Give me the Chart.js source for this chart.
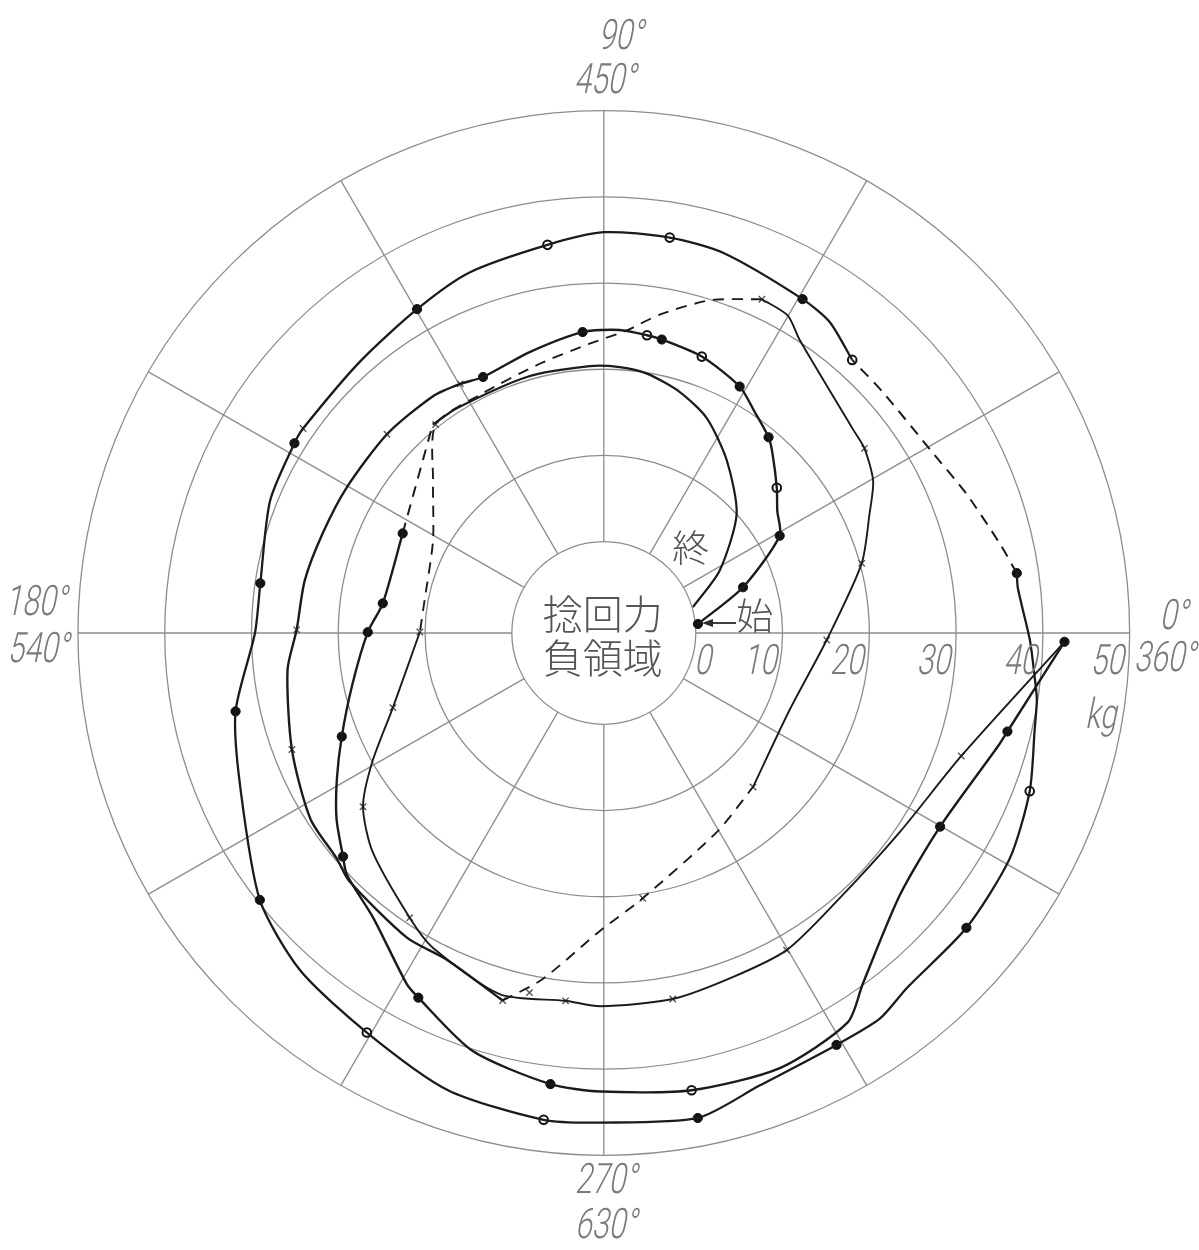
<!DOCTYPE html>
<html><head><meta charset="utf-8">
<script src="https://cdn.jsdelivr.net/npm/chart.js@4.4.0/dist/chart.umd.min.js"></script>
<style>html,body{margin:0;padding:0;background:#fff;}#wrap{width:1199px;height:1250px;}</style>
</head><body><div id="wrap"><canvas id="c" width="1199" height="1250"></canvas></div>
<script>
// ---- polar frame ----
const OFFSET = 10.6;                 // radius of the inner "negative torque" region (kg units)
const ringValues = [0, 10, 20, 30, 40, 50];
const tickLabels = ['0', '10', '20', '30', '40', '50'];
const spokeAngles = [0, 30, 60, 90, 120, 150, 180, 210, 240, 270, 300, 330];
const angleLabelsOuter = ['0°', '90°', '180°', '270°'];
const angleLabelsInner = ['360°', '450°', '540°', '630°'];

// ---- traces: [crank angle (deg), twisting force (kg)] ----
const traceStart = [[5.5,0.3],[18.3,6.3],[29.1,12.6],[35.3,13.9],[40.2,15.5],[47,17.9],[50.1,19.0],[55.9,20.4],[61.3,22.0],[70.6,23.4],[78.9,24.1],[81.8,24.3],[87,24.6],[94,24.4],[104.7,23.1],[115.1,22.2],[119.8,22.7],[125.7,23.2],[137.3,23.4],[150.4,23.5],[160.4,23.8],[170,24.4],[179.4,24.8],[186.7,26.1],[200.6,27.8],[212.5,29.5],[220.4,29.8],[224.5,30.5],[237.3,31.4],[244.5,31.4],[254.7,33.6]];
const traceSecondDash1 = [[254.7,33.6],[260,30.2],[269.2,24.0],[278.3,20.5],[299.5,15.9],[313.9,14.2]];
const traceSecondSolid1 = [[313.9,14.2],[337.5,12.6],[358.2,15.1],[375.2,20.2],[384.3,23.0],[389.6,25.1],[395.5,26.3],[399.6,26.6],[416.4,30.2],[420.1,31.9],[424.8,32.2]];
const traceSecondDash2 = [[424.8,32.2],[432.4,29.9],[440.1,26.9],[445.7,24.6],[452.8,23.0],[463.3,21.5],[477.3,20.5],[488.7,20.4],[498.2,15.8],[511.5,11.8],[529.6,10.4],[539.7,10.6]];
const traceSecondSolid2 = [[539.7,10.6],[559.6,15.2],[569.3,20.0],[576,23.7],[583.6,26.2],[595.9,29.3],[601.7,30.9],[614.1,33.0],[624.1,32.3],[629.5,32.7],[640.6,32.6],[650.4,32.0],[659.8,31.8],[670.8,30.5],[686,30.6],[700.9,33.0],[718.9,42.5]];
const traceReturn = [[358.9,42.5],[346.2,37.3],[343.9,36.7],[329.9,34.2],[318.3,35.1],[306.2,39.9],[301.9,42.6],[291.9,43.8],[280.8,43.4],[269.6,42.6],[263.3,42.1],[252.7,40.2],[243.2,36.8],[240.8,36.0],[231.2,31.8],[223.5,30.2],[220.8,29.1],[215,27.0],[208.8,24.5],[201.7,21.9],[191.7,19.0],[179.8,16.6],[172.3,15.1],[153.5,15.3]];
const traceReturnDash = [[153.5,15.3],[129.2,20.6]];
const traceEnd = [[129.2,20.6],[123,20.5],[106.6,20.4],[93,20.4],[86.6,20.3],[80.6,19.9],[72.6,18.7],[64.5,17.0],[54.6,13.9],[42,10.0],[28.5,4.6],[16.3,0.1]];
const traceOuter = [[47.9,32.1],[54.2,33.9],[59.4,34.4],[72.7,35.6],[80.6,35.9],[90,35.9],[98.2,34.9],[110.3,34.0],[119.8,32.7],[131.8,31.6],[145.6,31.4],[148.3,31.3],[158.3,30.8],[171.7,29.4],[180,29.6],[192.1,32.8],[202.9,34.9],[218,39.7],[228.2,41.9],[239.5,43.2],[251.3,45.4],[263,46.3],[269.7,46.2],[280.9,46.7],[288.8,44.9],[299.3,44.2],[305.4,44.3],[310.3,43.4],[320.7,43.4],[330.8,43.0],[339.5,41.8],[347.3,40.3],[351.2,39.9],[354.2,39.3],[359.1,38.5],[366.2,37.4],[368.3,37.5]];
const traceOuterDash = [[368.3,37.5],[372.8,36.2],[381.1,34.2],[388.8,32.7],[401.1,32.0],[407.9,32.1]];

// ---- measured points (markers) ----
const filledPoints = [[5.5,0.3],[18.3,6.3],[29.1,12.6],[50.1,19.0],[61.3,22.0],[78.9,24.1],[94,24.4],[115.1,22.2],[153.5,15.3],[172.3,15.1],[179.8,16.6],[201.7,21.9],[220.8,29.1],[243.2,36.8],[263.3,42.1],[329.9,34.2],[346.2,37.3],[358.9,42.5],[59.4,34.4],[119.8,32.7],[148.3,31.3],[171.7,29.4],[192.1,32.8],[218,39.7],[280.9,46.7],[299.3,44.2],[320.7,43.4],[8.3,37.5]];
const openPoints = [[40.2,15.5],[70.6,23.4],[81.8,24.3],[47.9,32.1],[80.6,35.9],[98.2,34.9],[239.5,43.2],[263,46.3],[280.8,43.4],[339.5,41.8]];
const crossPoints = [[119.8,22.7],[137.3,23.4],[179.4,24.8],[200.6,27.8],[128.7,20.4],[179.7,10.6],[199.6,15.2],[216,23.7],[235.9,29.3],[254.7,33.6],[258.4,32.0],[264.1,32.3],[280.6,32.6],[299.8,31.8],[340.9,33.0],[278.3,20.5],[313.9,14.2],[358.2,15.1],[15.2,20.2],[35.5,26.3],[64.8,32.2],[145.6,31.4]];

function toXY(p) {
  const a = p[0] * Math.PI / 180, r = p[1] + OFFSET;
  return { x: r * Math.cos(a), y: r * Math.sin(a) };
}

const INK = '#1b1b1b';
function lineSet(pts, dashed, width) {
  return { data: pts.map(toXY), showLine: true, pointRadius: 0, borderColor: INK,
    borderWidth: width || 2.2, borderDash: dashed ? [11, 8] : [], tension: 0.25, fill: false };
}

const gridPlugin = {
  id: 'polarGrid',
  beforeDatasetsDraw(chart) {
    const { ctx, scales: { x, y } } = chart;
    const cx = x.getPixelForValue(0), cy = y.getPixelForValue(0);
    ctx.save();
    ctx.strokeStyle = '#8d8d8d';
    ctx.lineWidth = 1.3;
    ringValues.forEach(v => {
      const rx = x.getPixelForValue(v + OFFSET) - cx;
      const ry = cy - y.getPixelForValue(v + OFFSET);
      ctx.beginPath(); ctx.ellipse(cx, cy, rx, ry, 0, 0, 2 * Math.PI); ctx.stroke();
    });
    const rOut = ringValues[ringValues.length - 1] + OFFSET;
    spokeAngles.forEach(a => {
      const t = a * Math.PI / 180;
      ctx.beginPath();
      ctx.moveTo(x.getPixelForValue(OFFSET * Math.cos(t)), y.getPixelForValue(OFFSET * Math.sin(t)));
      ctx.lineTo(x.getPixelForValue(rOut * Math.cos(t)), y.getPixelForValue(rOut * Math.sin(t)));
      ctx.stroke();
    });
    ctx.restore();
  },
  afterDraw(chart) {
    const { ctx, scales: { x, y } } = chart;
    const cx = x.getPixelForValue(0), cy = y.getPixelForValue(0);
    const rOut = ringValues[ringValues.length - 1] + OFFSET;
    const italic = (s, px, py, size, align) => {
      ctx.save(); ctx.translate(px, py); ctx.transform(0.72, 0, -0.2, 1, 0, 0);
      ctx.font = '300 ' + size + 'px Roboto, "DejaVu Sans", sans-serif';
      ctx.fillStyle = '#7a7a7a'; ctx.textAlign = align || 'center'; ctx.textBaseline = 'middle';
      ctx.fillText(s, 0, 0); ctx.restore();
    };
    // radial tick labels
    ringValues.forEach((v, i) => {
      const px = x.getPixelForValue(v + OFFSET);
      if (i === 0) italic(tickLabels[i], px + 17, cy + 30, 42, 'right');
      else italic(tickLabels[i], px - 4, cy + 30, 42, 'right');
    });
    italic('kg', x.getPixelForValue(rOut) - 27, cy + 84, 42, 'center');
    // angle labels
    const right = x.getPixelForValue(rOut), left = x.getPixelForValue(-rOut);
    const top = y.getPixelForValue(rOut), bottom = y.getPixelForValue(-rOut);
    italic(angleLabelsOuter[0], right + 46, cy - 15, 42);
    italic(angleLabelsInner[0], right + 37, cy + 27, 42);
    italic(angleLabelsOuter[1], cx + 19, top - 72, 42);
    italic(angleLabelsInner[1], cx + 3, top - 28, 42);
    italic(angleLabelsOuter[2], left - 40, cy - 29, 42);
    italic(angleLabelsInner[2], left - 38, cy + 18, 42);
    italic(angleLabelsOuter[3], cx + 4, bottom + 27, 42);
    italic(angleLabelsInner[3], cx + 4, bottom + 72, 42);
    // Japanese annotations
    ctx.save();
    ctx.fillStyle = '#555';
    ctx.textAlign = 'center'; ctx.textBaseline = 'middle';
    ctx.font = '300 40px "Noto Sans CJK JP"';
    ctx.fillText('捻回力', cx - 1, cy - 19);
    ctx.fillText('負領域', cx - 1, cy + 25);
    ctx.font = '300 37px "Noto Sans CJK JP"';
    ctx.fillText('終', cx + 87, cy - 85);
    ctx.fillText('始', cx + 151, cy - 17);
    // arrow from 始 to start point
    const s = toXY(traceStart[0]);
    const sx = x.getPixelForValue(s.x) + 4, sy = y.getPixelForValue(s.y) - 1;
    ctx.strokeStyle = '#2a2a2a'; ctx.fillStyle = '#2a2a2a'; ctx.lineWidth = 1.8;
    ctx.beginPath(); ctx.moveTo(sx + 34, sy); ctx.lineTo(sx + 6, sy); ctx.stroke();
    ctx.beginPath(); ctx.moveTo(sx, sy); ctx.lineTo(sx + 11, sy - 4); ctx.lineTo(sx + 11, sy + 4); ctx.closePath(); ctx.fill();
    ctx.restore();
  }
};

new Chart(document.getElementById('c'), {
  type: 'scatter',
  data: {
    datasets: [
      lineSet(traceStart, false, 2.4),
      lineSet(traceSecondDash1, true, 1.9),
      lineSet(traceSecondSolid1, false, 1.9),
      lineSet(traceSecondDash2, true, 1.9),
      lineSet(traceSecondSolid2, false, 1.9),
      lineSet(traceReturn, false, 2.4),
      lineSet(traceReturnDash, true, 2.0),
      lineSet(traceEnd, false, 2.2),
      lineSet(traceOuter, false, 2.3),
      lineSet(traceOuterDash, true, 2.0),
      { data: filledPoints.map(toXY), showLine: false, pointStyle: 'circle', pointRadius: 4.6,
        backgroundColor: '#111', borderColor: '#111', borderWidth: 1 },
      { data: openPoints.map(toXY), showLine: false, pointStyle: 'circle', pointRadius: 4.3,
        backgroundColor: '#fff', borderColor: '#111', borderWidth: 2 },
      { data: crossPoints.map(toXY), showLine: false, pointStyle: 'crossRot', pointRadius: 4.5,
        backgroundColor: '#fff', borderColor: '#555', borderWidth: 1.4 }
    ]
  },
  options: {
    responsive: false, animation: false, devicePixelRatio: 1,
    layout: { padding: { left: 65.8, right: 57.2, top: 98.6, bottom: 82.6 } },
    scales: {
      x: { type: 'linear', min: -62, max: 62, display: false },
      y: { type: 'linear', min: -62, max: 62, display: false }
    },
    plugins: { legend: { display: false }, tooltip: { enabled: false } },
    elements: { point: { hoverRadius: 0 } }
  },
  plugins: [gridPlugin]
});
</script>
</body></html>
